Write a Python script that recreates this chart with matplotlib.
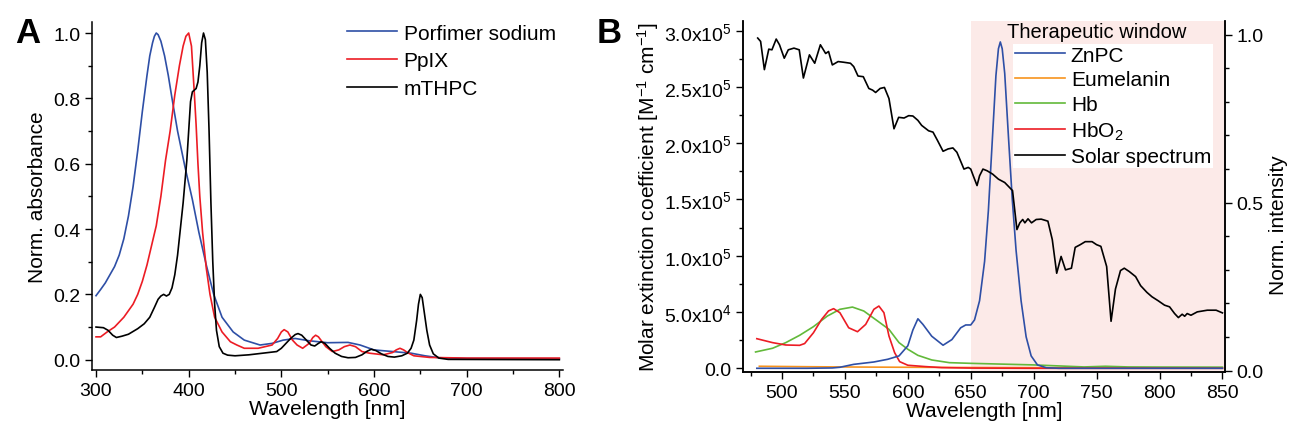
import matplotlib
matplotlib.use("Agg")
import matplotlib.pyplot as plt
from matplotlib.ticker import MultipleLocator, FuncFormatter
import numpy as np

plt.rcParams['font.family'] = ['Liberation Sans', 'DejaVu Sans']
plt.rcParams['mathtext.fontset'] = 'custom'
plt.rcParams['mathtext.rm'] = 'Liberation Sans'
plt.rcParams['mathtext.it'] = 'Liberation Sans:italic'
plt.rcParams['mathtext.bf'] = 'Liberation Sans:bold'

# ---------------- Panel A data ----------------
wl_porfimer = [300, 305, 310, 315, 320, 325, 330, 335, 340, 345, 350, 355, 358, 361, 363, 365, 367, 370,
               374, 378, 382, 388, 396, 404, 411, 419, 427, 436, 448, 460, 477, 490, 502, 515, 530, 550,
               572, 585, 600, 620, 640, 655, 670, 700, 800]
abs_porfimer = [0.196, 0.215, 0.235, 0.26, 0.285, 0.32, 0.37, 0.44, 0.53, 0.64, 0.76, 0.87, 0.93, 0.97,
                0.99, 1.0, 0.995, 0.975, 0.93, 0.87, 0.80, 0.70, 0.59, 0.49, 0.39, 0.29, 0.20, 0.13,
                0.085, 0.06, 0.045, 0.05, 0.06, 0.065, 0.058, 0.052, 0.053, 0.045, 0.03, 0.025, 0.02,
                0.012, 0.006, 0.004, 0.003]

wl_ppix = [300, 305, 312, 320, 330, 340, 345, 350, 355, 360, 365, 370, 375, 380, 385, 390, 394, 397, 400,
           403, 406, 408, 410, 412, 415, 419, 423, 428, 436, 445, 452, 460, 475, 490, 496, 500, 503, 507,
           512, 517, 523, 530, 534, 537, 540, 544, 548, 555, 562, 568, 574, 580, 587, 595, 610, 620, 624,
           628, 632, 636, 643, 660, 700, 800]
abs_ppix = [0.07, 0.07, 0.085, 0.10, 0.13, 0.17, 0.20, 0.24, 0.29, 0.35, 0.41, 0.50, 0.61, 0.70, 0.81, 0.90,
            0.96, 0.99, 1.0, 0.96, 0.82, 0.72, 0.60, 0.50, 0.39, 0.28, 0.20, 0.13, 0.085, 0.055, 0.045,
            0.035, 0.035, 0.045, 0.065, 0.085, 0.092, 0.085, 0.06, 0.045, 0.035, 0.05, 0.068, 0.075, 0.07,
            0.055, 0.04, 0.025, 0.03, 0.04, 0.045, 0.04, 0.025, 0.02, 0.015, 0.022, 0.03, 0.035, 0.03,
            0.022, 0.012, 0.007, 0.005, 0.005]

wl_mthpc = [300, 308, 313, 318, 322, 328, 335, 345, 352, 358, 363, 367, 370, 373, 376, 379, 382, 385, 388,
            391, 394, 398, 400, 402, 404, 406, 408, 410, 412, 414, 416, 418, 420, 422, 424, 426, 428, 430,
            433, 437, 442, 450, 465, 480, 495, 500, 505, 510, 515, 518, 522, 527, 532, 536, 540, 543, 547,
            552, 558, 565, 572, 580, 587, 592, 597, 602, 608, 615, 622, 630, 636, 640, 643, 646, 648, 650,
            652, 654, 657, 660, 664, 670, 680, 800]
abs_mthpc = [0.10, 0.098, 0.09, 0.075, 0.068, 0.072, 0.078, 0.095, 0.11, 0.13, 0.16, 0.185, 0.195, 0.20,
             0.195, 0.20, 0.22, 0.26, 0.32, 0.40, 0.48, 0.61, 0.70, 0.79, 0.82, 0.825, 0.83, 0.85, 0.90,
             0.97, 1.0, 0.98, 0.88, 0.70, 0.48, 0.30, 0.17, 0.09, 0.04, 0.02, 0.014, 0.012, 0.015, 0.02,
             0.025, 0.035, 0.05, 0.065, 0.077, 0.08, 0.075, 0.06, 0.045, 0.042, 0.05, 0.055, 0.05, 0.035,
             0.02, 0.01, 0.006, 0.007, 0.015, 0.025, 0.032, 0.028, 0.018, 0.01, 0.008, 0.012, 0.02, 0.035,
             0.06, 0.12, 0.17, 0.20, 0.19, 0.15, 0.09, 0.045, 0.018, 0.005, 0.001, 0.0]

labels_a = ["Porfimer sodium", "PpIX", "mTHPC"]

# ---------------- Panel B data ----------------
wl_znpc = [480, 520, 540, 546, 557, 573, 584, 593, 600, 604, 608, 612, 619, 628, 635, 642, 646, 650, 653,
           657, 661, 664, 667, 670, 672, 673.5, 675, 677, 680, 683, 686, 690, 694, 698, 703, 710, 720, 850]
eps_znpc = [0, 0, 300, 900, 3500, 5600, 8000, 11000, 20000, 34000, 44000, 39000, 28500, 20500, 25500,
            36000, 38500, 38500, 43000, 60000, 95000, 140000, 200000, 260000, 284000, 290000, 284000,
            262000, 205000, 150000, 105000, 60000, 28000, 11000, 3000, 500, 0, 0]

wl_eumelanin = [482, 520, 560, 600, 650, 700, 750, 800, 850]
eps_eumelanin = [1800, 1400, 1100, 900, 700, 500, 400, 300, 250]

wl_hb = [479, 492.5, 503, 514, 525, 536, 546, 556, 565, 576, 585, 593, 600, 608, 619, 633, 650, 700,
         740, 757, 775, 800, 850]
eps_hb = [14500, 17800, 22800, 29300, 37000, 46400, 52400, 54400, 50900, 42000, 34600, 22800, 16900,
          11500, 7400, 5000, 4400, 3000, 1200, 1800, 1200, 1100, 1000]

wl_hbo2 = [480, 492.5, 503, 514, 518, 525, 531.5, 537, 541, 546, 553, 560, 566.5, 573, 577, 581, 585,
           589.5, 593.5, 600, 614, 627, 650, 700, 850]
eps_hbo2 = [26300, 22800, 20700, 20400, 22000, 31600, 43500, 51000, 53000, 49400, 36000, 32500, 39000,
            52400, 55300, 49400, 28700, 13900, 5900, 2700, 1500, 600, 200, 0, 0]

wl_solar = [480.7, 483, 486, 489.5, 492, 495.4, 498, 501.8, 505, 509.5, 513.7, 517, 521.8, 526, 530.5,
            534.7, 537, 540, 544.6, 549, 554.4, 557, 560.4, 564.6, 569, 572, 574.4, 578, 581.4, 585, 589,
            592.7, 597, 600.7, 604, 608, 611, 616.5, 620, 623.6, 628, 632, 635.8, 639, 644.6, 648, 650,
            652, 655, 657, 659.7, 663, 667.4, 672, 677, 683.2, 686.7, 689, 691.3, 693, 695.5, 698.3, 702,
            706, 711.3, 714.8, 718.3, 721.8, 725.3, 730, 733, 737, 741, 746.4, 750, 753.4, 758, 761.5,
            765, 769, 772, 776, 781, 785, 790, 794, 799, 804, 808, 812, 815, 818, 820, 822, 825, 830,
            838, 845, 850]
int_solar = [0.99, 0.98, 0.896, 0.957, 0.955, 0.987, 0.97, 0.93, 0.955, 0.96, 0.955, 0.871, 0.94, 0.915,
             0.97, 0.944, 0.95, 0.91, 0.92, 0.918, 0.915, 0.905, 0.877, 0.875, 0.84, 0.835, 0.828, 0.84,
             0.843, 0.81, 0.72, 0.754, 0.752, 0.759, 0.758, 0.745, 0.73, 0.714, 0.71, 0.685, 0.653, 0.66,
             0.663, 0.65, 0.60, 0.605, 0.60, 0.58, 0.551, 0.58, 0.60, 0.595, 0.585, 0.57, 0.56, 0.536,
             0.42, 0.44, 0.45, 0.44, 0.452, 0.44, 0.45, 0.451, 0.445, 0.39, 0.29, 0.34, 0.30, 0.305, 0.367,
             0.375, 0.384, 0.384, 0.375, 0.37, 0.31, 0.147, 0.243, 0.298, 0.305, 0.295, 0.28, 0.253, 0.233,
             0.22, 0.208, 0.195, 0.19, 0.17, 0.158, 0.168, 0.162, 0.17, 0.165, 0.175, 0.18, 0.18, 0.172]

labels_b = ["ZnPC", "Eumelanin", "Hb", "HbO$_2$", "Solar spectrum"]
window = [650, 852]

BLUE = '#2E4FA6'
RED = '#EC1C24'
ORANGE = '#F7931E'
GREEN = '#62B93A'
PINK = '#FCEAE8'

TICK = 14
LAB = 15

fig = plt.figure(figsize=(12.89, 4.31), dpi=100)

# ---------------- Panel A ----------------
axA = fig.add_axes([0.0714, 0.1392, 0.3654, 0.8081])
axA.plot(wl_porfimer, abs_porfimer, color=BLUE, lw=1.2, label=labels_a[0])
axA.plot(wl_ppix, abs_ppix, color=RED, lw=1.2, label=labels_a[1])
axA.plot(wl_mthpc, abs_mthpc, color='black', lw=1.2, label=labels_a[2])
axA.set_xlim(295.7, 804)
axA.set_ylim(-0.0315, 1.0346)
axA.spines['top'].set_visible(False)
axA.spines['right'].set_visible(False)
axA.xaxis.set_major_locator(MultipleLocator(100))
axA.xaxis.set_minor_locator(MultipleLocator(50))
axA.yaxis.set_major_locator(MultipleLocator(0.2))
axA.yaxis.set_minor_locator(MultipleLocator(0.1))
axA.yaxis.set_major_formatter(FuncFormatter(lambda v, p: f"{v:.1f}"))
axA.tick_params(which='both', direction='out', labelsize=TICK, width=1)
axA.tick_params(which='major', length=5)
axA.tick_params(which='minor', length=3)
axA.set_xlabel("Wavelength [nm]", fontsize=LAB, labelpad=0)
axA.set_ylabel("Norm. absorbance", fontsize=LAB, labelpad=4)
axA.legend(loc='upper left', bbox_to_anchor=(0.52, 1.024), frameon=False, fontsize=15,
           handlelength=2.4, handletextpad=0.3, labelspacing=0.41, borderpad=0)
fig.text(0.012, 0.96, "A", fontsize=25, fontweight='bold', va='top', ha='left')

# ---------------- Panel B ----------------
axB = fig.add_axes([0.5767, 0.1339, 0.3736, 0.8158])
axB.axvspan(window[0], window[1], color=PINK, zorder=0, lw=0)
lz, = axB.plot(wl_znpc, eps_znpc, color=BLUE, lw=1.2, zorder=3)
le, = axB.plot(wl_eumelanin, eps_eumelanin, color=ORANGE, lw=1.2, zorder=2)
lh, = axB.plot(wl_hb, eps_hb, color=GREEN, lw=1.2, zorder=2)
lo, = axB.plot(wl_hbo2, eps_hbo2, color=RED, lw=1.2, zorder=2)
axB.set_xlim(469.3, 852)
axB.set_ylim(-3555, 308900)
axB.spines['top'].set_visible(False)
axB.xaxis.set_major_locator(MultipleLocator(50))
axB.xaxis.set_minor_locator(MultipleLocator(25))
axB.yaxis.set_major_locator(MultipleLocator(50000))
axB.yaxis.set_minor_locator(MultipleLocator(25000))


def sci(v, p):
    if abs(v) < 1e-9:
        return "0.0"
    e = int(np.floor(np.log10(abs(v))))
    m = v / 10 ** e
    return f"{m:.1f}x10$^{{{e}}}$"


axB.yaxis.set_major_formatter(FuncFormatter(sci))
axB.tick_params(which='both', direction='out', labelsize=TICK, width=1)
axB.tick_params(which='major', length=5)
axB.tick_params(which='minor', length=3)
axB.set_xlabel("Wavelength [nm]", fontsize=LAB, labelpad=0)
axB.set_ylabel("Molar extinction coefficient [M$^{-1}$ cm$^{-1}$]", fontsize=LAB, labelpad=2)

ax2 = axB.twinx()
ls, = ax2.plot(wl_solar, int_solar, color='black', lw=1.2)
ax2.set_ylim(-0.0048, 1.0417)
ax2.spines['top'].set_visible(False)
ax2.yaxis.set_major_locator(MultipleLocator(0.5))
ax2.yaxis.set_minor_locator(MultipleLocator(0.1))
ax2.yaxis.set_major_formatter(FuncFormatter(lambda v, p: f"{v:.1f}"))
ax2.tick_params(which='both', direction='out', labelsize=TICK, width=1)
ax2.tick_params(which='major', length=5)
ax2.tick_params(which='minor', length=3)
ax2.set_ylabel("Norm. intensity", fontsize=LAB, labelpad=4, y=0.42)

for sp in list(axA.spines.values()) + list(axB.spines.values()) + list(ax2.spines.values()):
    sp.set_linewidth(1.1)

axB.text(750, 0.97, "Therapeutic window", transform=axB.get_xaxis_transform(),
         ha='center', va='center', fontsize=14.5, zorder=5)
leg = ax2.legend([lz, le, lh, lo, ls], labels_b, loc='upper right', bbox_to_anchor=(0.975, 0.934),
                 fontsize=15, frameon=True, fancybox=False, framealpha=1, facecolor='white',
                 edgecolor='none', handlelength=2.4, handletextpad=0.3, labelspacing=0.27,
                 borderpad=0.08, borderaxespad=0)

fig.text(0.463, 0.96, "B", fontsize=25, fontweight='bold', va='top', ha='left')

fig.savefig("out.png", dpi=100)
